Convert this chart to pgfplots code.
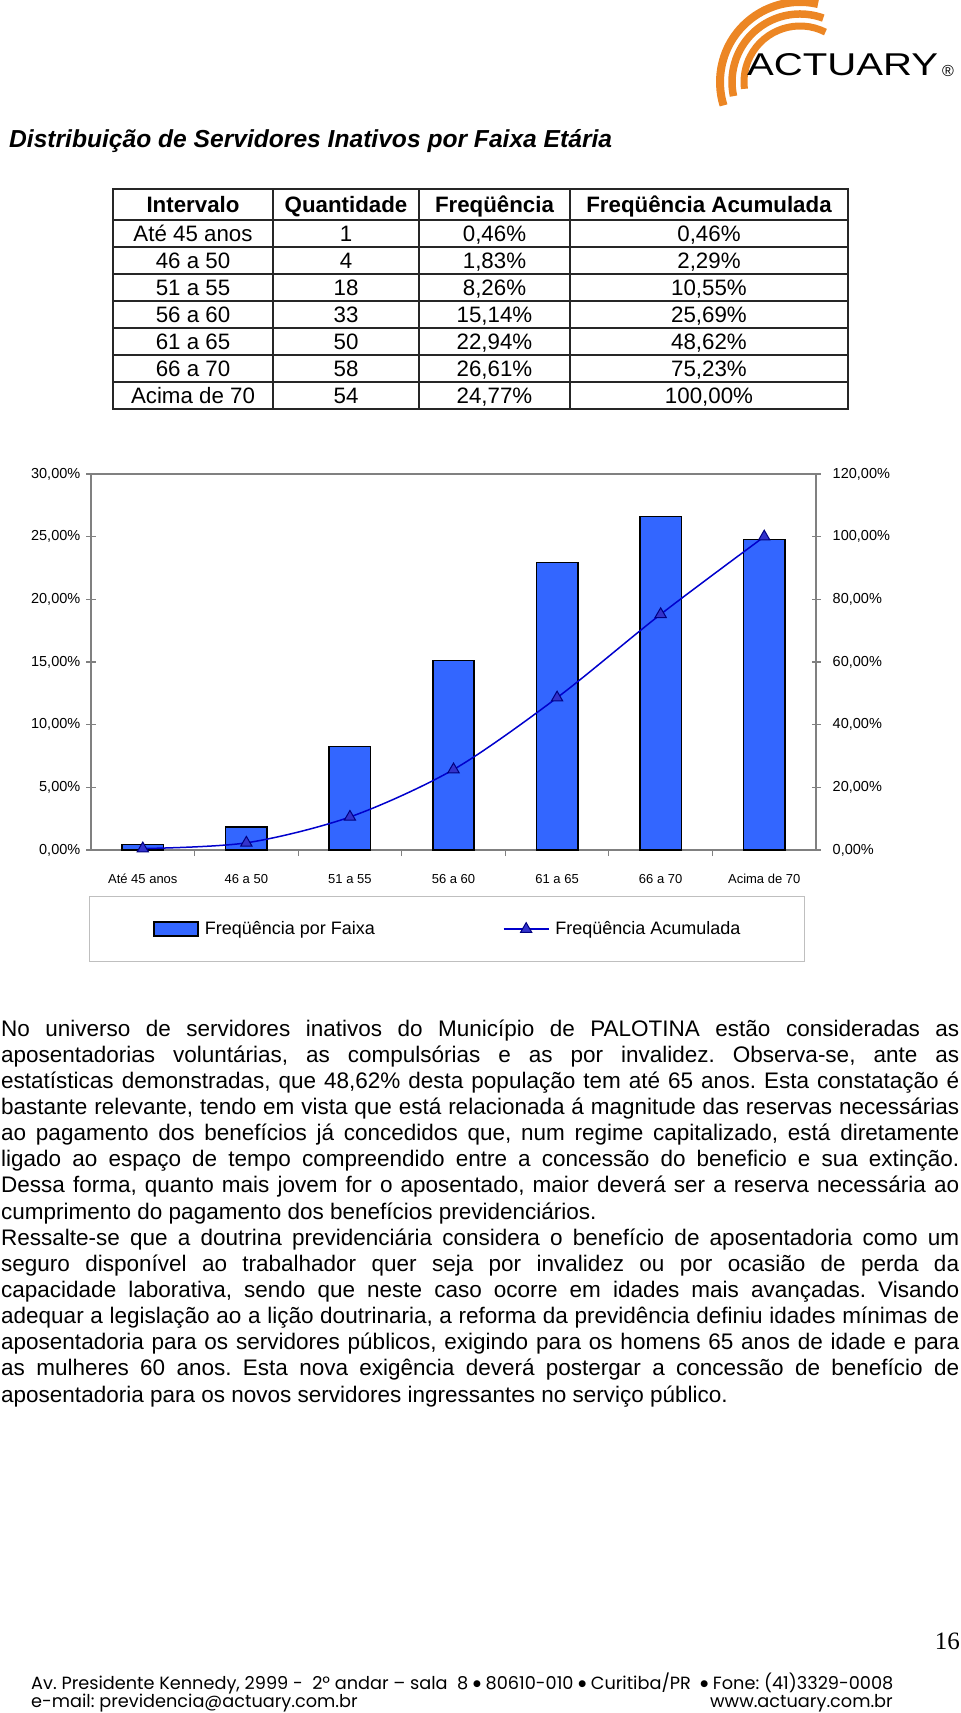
\documentclass[border=0pt]{standalone}
\usepackage{fontspec}
\setmainfont{Liberation Sans}
\newfontfamily\popfont{Poppins}
\newfontfamily\dejavu{DejaVu Sans}
\newfontfamily\timesfont{Liberation Serif}
\usepackage{graphicx}
\usepackage{pgfplots}
\pgfplotsset{compat=1.18}

\definecolor{barblue}{HTML}{3366FF}
\definecolor{lineblue}{HTML}{0000CC}
\definecolor{markblue}{HTML}{3333CC}
\definecolor{markedge}{HTML}{000080}
\definecolor{axgray}{HTML}{808080}
\definecolor{logoorange}{HTML}{EC8624}

\pgfplotsset{
  barlegend/.style={legend image code/.code={%
    \draw[fill=barblue, draw=black, line width=1.5bp] (0bp,-7bp) rectangle (44bp,7bp);}},
  cumlegend/.style={legend image code/.code={%
    \draw[lineblue, line width=1.5bp, mark=triangle*, mark size=6.5bp,
      mark options={fill=markblue, draw=markedge, line width=1bp},
      mark repeat=2, mark phase=2] plot coordinates {(0bp,0bp) (22.5bp,0bp) (45bp,0bp)};}},
}

\newcommand\fs[2]{\fontsize{#1bp}{#2bp}\selectfont}
\newcommand\jline[1]{\makebox[958bp][s]{#1}}
\newcommand\sepdot{\raisebox{2.5bp}{\dejavu\fs{9}{9}●}}

\begin{document}
\frenchspacing
\begin{tikzpicture}[x=1bp,y=-1bp]
\path[use as bounding box] (0,0) rectangle (960,1713);

% logo
\foreach \r/\a/\b/\w in {80/283/163/8, 68/290/168/7.5, 56/297/173/7}
  \draw[logoorange, line width=\w bp] (800,82) ++(\a:\r) arc[start angle=\a, end angle=\b, radius=\r];
\node[anchor=base west, inner sep=0] at (747,75) {\resizebox{191bp}{22bp}{ACTUARY}};
\node[inner sep=0] at (948,71) {\fs{16}{16}®};

% title
\node[anchor=base west, inner sep=0, font=\bfseries\itshape\fs{24.6}{28}] at (9,147)
  {Distribuição de Servidores Inativos por Faixa Etária};

% table
\draw[line width=1.3bp, black!85] (113,189) rectangle (848,409);
\foreach \k in {0,...,6}
  \draw[line width=1.3bp, black!85] (113,{220+27*\k}) -- (848,{220+27*\k});
\foreach \xx in {273,419,570}
  \draw[line width=1.3bp, black!85] (\xx,189) -- (\xx,409);
\begin{scope}[every node/.style={anchor=base, inner sep=0, font=\fs{22.3}{26}}]
\node[font=\bfseries\fs{22.3}{26}] at (193,212.5) {Intervalo};
\node[font=\bfseries\fs{22.3}{26}] at (346,212.5) {Quantidade};
\node[font=\bfseries\fs{22.3}{26}] at (494.5,212.5) {Freqüência};
\node[font=\bfseries\fs{22.3}{26}] at (709,212.5) {Freqüência Acumulada};
\foreach \a/\b/\c/\d [count=\i] in {Até 45 anos/1/{0,46\%}/{0,46\%},
    46 a 50/4/{1,83\%}/{2,29\%}, 51 a 55/18/{8,26\%}/{10,55\%},
    56 a 60/33/{15,14\%}/{25,69\%}, 61 a 65/50/{22,94\%}/{48,62\%},
    66 a 70/58/{26,61\%}/{75,23\%}, Acima de 70/54/{24,77\%}/{100,00\%}} {
  \node at (193,{214.5+27*\i}) {\a};
  \node at (346,{214.5+27*\i}) {\b};
  \node at (494.5,{214.5+27*\i}) {\c};
  \node at (709,{214.5+27*\i}) {\d};
}
\end{scope}

% chart
\begin{scope}[x=1cm,y=1cm]
\begin{axis}[
    at={(91bp,-850bp)}, anchor=south west,
    scale only axis, width=725bp, height=376bp,
    xmin=-0.5, xmax=6.5, ymin=0, ymax=30,
    axis line style={axgray, line width=1.3bp},
    tick style={axgray, line width=1.1bp},
    tick align=center, major tick length=9bp,
    xtick={0,...,6},
    xticklabels={Até 45 anos, 46 a 50, 51 a 55, 56 a 60, 61 a 65, 66 a 70, Acima de 70},
    xtick style={draw=none},
    xtick pos=bottom,
    xticklabel style={font=\fs{13}{15}, anchor=base, inner sep=0pt, yshift=-29bp},
    extra x ticks={0.5,1.5,...,5.5},
    extra x tick labels={},
    extra x tick style={xtick style={draw=axgray}, tick align=outside, major tick length=6bp},
    ytick={0,5,...,30},
    yticklabels={{0,00\%},{5,00\%},{10,00\%},{15,00\%},{20,00\%},{25,00\%},{30,00\%}},
    ytick pos=left,
    yticklabel style={font=\fs{14.5}{16}, anchor=east, inner sep=0pt, xshift=-6bp},
    legend columns=2,
    legend style={
        at={(-0.003,-0.122)}, anchor=north west,
        draw=black!25, line width=1bp,
        inner xsep=64bp, inner ysep=25bp,
        font=\fs{18}{20},
        nodes={inner sep=0pt},
        cells={anchor=west},
        /tikz/every odd column/.append style={column sep=6bp},
        /tikz/every even column/.append style={column sep=128bp}},
    ]
    \addplot[ybar, bar width=0.4, bar shift=0pt, fill=barblue, draw=black, line width=1.5bp, barlegend]
        coordinates {(0,0.46) (1,1.83) (2,8.26) (3,15.14) (4,22.94) (5,26.61) (6,24.77)};
    \addlegendentry{Freqüência por Faixa}
    \addlegendimage{cumlegend}
    \addlegendentry{Freqüência Acumulada}
\end{axis}
\begin{axis}[
    at={(91bp,-850bp)}, anchor=south west,
    scale only axis, width=725bp, height=376bp,
    xmin=-0.5, xmax=6.5, ymin=0, ymax=120,
    axis x line=none, axis y line*=right,
    axis line style={axgray, line width=1.3bp},
    tick style={axgray, line width=1.1bp},
    tick align=center, major tick length=9bp,
    ytick={0,20,...,120},
    yticklabels={{0,00\%},{20,00\%},{40,00\%},{60,00\%},{80,00\%},{100,00\%},{120,00\%}},
    yticklabel style={font=\fs{14.5}{16}, anchor=west, inner sep=0pt, xshift=12bp},
    ]
    \addplot[lineblue, line width=1.5bp, smooth, mark=triangle*, mark size=6.5bp,
        mark options={fill=markblue, draw=markedge, line width=1bp}]
        coordinates {(0,0.46) (1,2.29) (2,10.55) (3,25.69) (4,48.62) (5,75.23) (6,100)};
\end{axis}
\end{scope}

% body text
\begin{scope}[every node/.style={anchor=base west, inner sep=0, font=\fs{22.5}{26}}]
\node at (1,1036.0) {\jline{No universo de servidores inativos do Município de PALOTINA estão consideradas as}};
\node at (1,1062.1) {\jline{aposentadorias voluntárias, as compulsórias e as por invalidez. Observa-se, ante as}};
\node at (1,1088.3) {\jline{estatísticas demonstradas, que 48,62\% desta população tem até 65 anos. Esta constatação é}};
\node at (1,1114.4) {\jline{bastante relevante, tendo em vista que está relacionada á magnitude das reservas necessárias}};
\node at (1,1140.6) {\jline{ao pagamento dos benefícios já concedidos que, num regime capitalizado, está diretamente}};
\node at (1,1166.7) {\jline{ligado ao espaço de tempo compreendido entre a concessão do beneficio e sua extinção.}};
\node at (1,1192.8) {\jline{Dessa forma, quanto mais jovem for o aposentado, maior deverá ser a reserva necessária ao}};
\node at (1,1219.0) {cumprimento do pagamento dos benefícios previdenciários.};
\node at (1,1245.1) {\jline{Ressalte-se que a doutrina previdenciária considera o benefício de aposentadoria como um}};
\node at (1,1271.3) {\jline{seguro disponível ao trabalhador quer seja por invalidez ou por ocasião de perda da}};
\node at (1,1297.4) {\jline{capacidade laborativa, sendo que neste caso ocorre em idades mais avançadas. Visando}};
\node at (1,1323.5) {\jline{adequar a legislação ao a lição doutrinaria, a reforma da previdência definiu idades mínimas de}};
\node at (1,1349.7) {\jline{aposentadoria para os servidores públicos, exigindo para os homens 65 anos de idade e para}};
\node at (1,1375.8) {\jline{as mulheres 60 anos. Esta nova exigência deverá postergar a concessão de benefício de}};
\node at (1,1402.0) {aposentadoria para os novos servidores ingressantes no serviço público.};
\end{scope}

% page number and footer
\node[anchor=base east, inner sep=0, font=\timesfont\fs{25}{28}] at (960,1649) {16};
\node[anchor=base west, inner sep=0, font=\popfont\fs{17.7}{20}] at (31,1689)
  {Av. Presidente Kennedy, 2999 -\ \ 2º andar – sala\ \ 8 \sepdot\ 80610-010 \sepdot\ Curitiba/PR\ \ \sepdot\ Fone: (41)3329-0008};
\node[anchor=base west, inner sep=0, font=\popfont\fs{17.7}{20}] at (31,1707.5) {e-mail: previdencia@actuary.com.br};
\node[anchor=base east, inner sep=0, font=\popfont\fs{17.7}{20}] at (893,1707.5) {www.actuary.com.br};
\end{tikzpicture}
\end{document}
